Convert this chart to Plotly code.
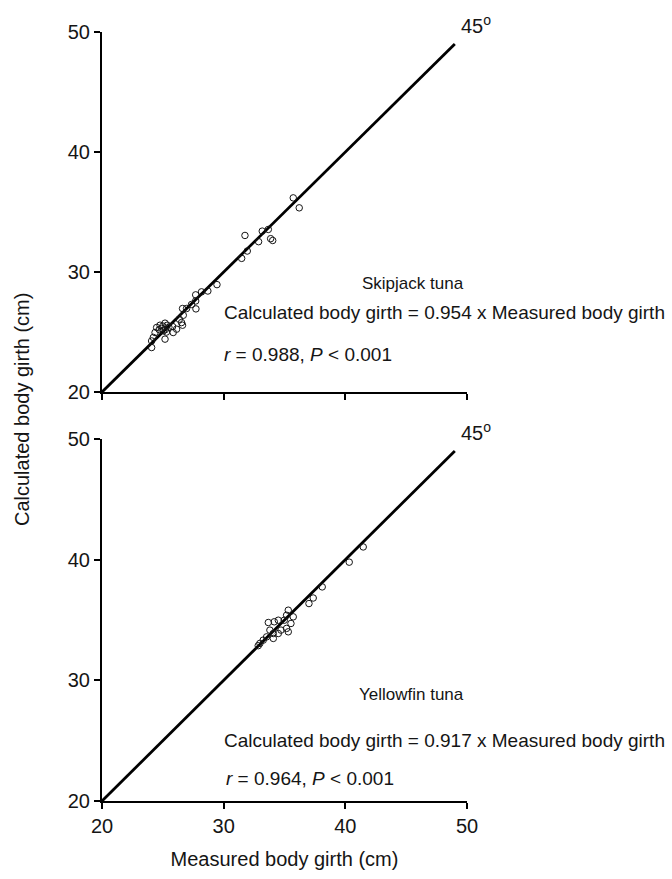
import plotly.graph_objects as go

# Skipjack tuna: measured vs calculated body girth (cm)
skj_measured = [35.72, 36.21, 31.75, 33.17, 33.67, 33.86, 34.03, 32.87, 31.94, 31.48,
                29.45, 28.70, 28.18, 27.70, 27.70, 27.36, 27.72, 26.95, 26.62, 26.68,
                26.35, 26.54, 26.62, 26.13, 25.80, 25.36, 25.18, 24.77, 24.49, 25.04,
                25.85, 25.18, 24.36, 24.22, 24.08, 24.08, 24.90, 25.20, 25.50, 24.70,
                25.30, 25.00]
skj_calculated = [36.18, 35.35, 33.05, 33.41, 33.55, 32.78, 32.63, 32.53, 31.75, 31.14,
                  28.95, 28.42, 28.35, 28.10, 27.59, 27.30, 26.93, 26.96, 26.96, 26.40,
                  26.07, 25.79, 25.57, 25.24, 25.46, 25.57, 25.74, 25.57, 25.38, 25.10,
                  24.96, 24.41, 24.96, 24.55, 24.26, 23.71, 25.30, 25.20, 25.40, 25.20,
                  25.00, 25.50]

# Yellowfin tuna: measured vs calculated body girth (cm)
yft_measured = [41.47, 40.32, 38.10, 37.36, 37.01, 35.31, 35.72, 35.17, 34.98, 34.49,
                34.16, 33.67, 35.53, 35.17, 35.31, 34.71, 34.49, 34.08, 33.80, 33.53,
                34.08, 33.25, 32.98, 32.84]
yft_calculated = [41.05, 39.79, 37.74, 36.82, 36.36, 35.81, 35.26, 35.39, 34.98, 34.98,
                  34.85, 34.79, 34.71, 34.30, 34.02, 34.16, 33.88, 33.88, 34.16, 33.60,
                  33.47, 33.33, 33.06, 32.87]

# 45-degree reference line
ref_line = [20, 49]

axis_ticks = [20, 30, 40, 50]
axis_range = [20, 50]

FONT = "Liberation Sans, Arial, Helvetica, sans-serif"
INK = "#151515"

marker_style = dict(symbol="circle-open", size=6.5, color=INK, line=dict(width=1, color=INK))
line_style = dict(color="black", width=2.8)

fig = go.Figure()

fig.add_trace(go.Scatter(x=ref_line, y=ref_line, mode="lines", line=line_style,
                         xaxis="x", yaxis="y", showlegend=False, hoverinfo="skip"))
fig.add_trace(go.Scatter(x=skj_measured, y=skj_calculated, mode="markers",
                         marker=marker_style, xaxis="x", yaxis="y", showlegend=False,
                         name="Skipjack tuna"))
fig.add_trace(go.Scatter(x=ref_line, y=ref_line, mode="lines", line=line_style,
                         xaxis="x2", yaxis="y2", showlegend=False, hoverinfo="skip"))
fig.add_trace(go.Scatter(x=yft_measured, y=yft_calculated, mode="markers",
                         marker=marker_style, xaxis="x2", yaxis="y2", showlegend=False,
                         name="Yellowfin tuna"))

axis_common = dict(
    range=axis_range, tickvals=axis_ticks, ticks="outside", ticklen=6, tickwidth=2,
    tickcolor="black", showline=True, linewidth=2, linecolor="black",
    showgrid=False, zeroline=False, tickfont=dict(family=FONT, size=20, color=INK),
    fixedrange=True,
)

# plot area: left 102 px, right 467 px, top 32 px, bottom 803 px
W, H = 672, 879
L, R, T, B = 102, W - 467, 32, H - 803
plot_h = H - T - B
plot_w = W - L - R


def px_x(px):
    return (px - L) / plot_w


def px_y(py):
    return (H - B - py) / plot_h


top_domain = [px_y(393), 1.0]
bottom_domain = [0.0, px_y(440)]

fig.update_layout(
    width=W, height=H,
    margin=dict(l=L, r=R, t=T, b=B),
    paper_bgcolor="white", plot_bgcolor="white",
    font=dict(family=FONT, color=INK),
    xaxis=dict(axis_common, domain=[0, 1], anchor="y", showticklabels=False),
    yaxis=dict(axis_common, domain=top_domain, anchor="x"),
    xaxis2=dict(axis_common, domain=[0, 1], anchor="y2",
                title=dict(text="Measured body girth (cm)",
                           font=dict(family=FONT, size=20, color=INK), standoff=16)),
    yaxis2=dict(axis_common, domain=bottom_domain, anchor="x2"),
)

annotations = [
    # shared y-axis title
    dict(text="Calculated body girth (cm)", x=px_x(22), y=px_y(411), textangle=-90,
         font=dict(size=20)),
    # top panel
    dict(text="45<sup>o</sup>", x=px_x(476), y=px_y(24), font=dict(size=20)),
    dict(text="Skipjack tuna", x=px_x(413), y=px_y(284), font=dict(size=17)),
    dict(text="Calculated body girth = 0.954 x Measured body girth", x=px_x(222),
         y=px_y(313), xanchor="left", font=dict(size=19)),
    dict(text="<i>r</i> = 0.988, <i>P</i> &lt; 0.001", x=px_x(222), y=px_y(355),
         xanchor="left", font=dict(size=19)),
    # bottom panel
    dict(text="45<sup>o</sup>", x=px_x(476), y=px_y(433), font=dict(size=20)),
    dict(text="Yellowfin tuna", x=px_x(411), y=px_y(696), font=dict(size=17)),
    dict(text="Calculated body girth = 0.917 x Measured body girth", x=px_x(222),
         y=px_y(742), xanchor="left", font=dict(size=19)),
    dict(text="<i>r</i> = 0.964, <i>P</i> &lt; 0.001", x=px_x(224), y=px_y(780),
         xanchor="left", font=dict(size=19)),
]
for a in annotations:
    a.setdefault("xanchor", "center")
    a.update(xref="paper", yref="paper", showarrow=False, yanchor="middle")
    a["font"] = dict(family=FONT, color=INK, **a["font"])
fig.update_layout(annotations=annotations)

fig.write_html("out.html")
